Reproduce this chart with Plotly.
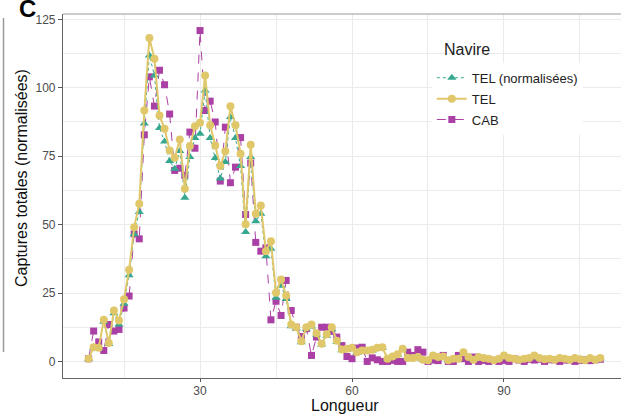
import plotly.graph_objects as go

longueur = [8, 9, 10, 11, 12, 13, 14, 15, 16, 17, 18, 19, 20, 21, 22, 23, 24, 25, 26, 27,
            28, 29, 30, 31, 32, 33, 34, 35, 36, 37, 38, 39, 40, 41, 42, 43, 44, 45, 46, 47,
            48, 49, 50, 51, 52, 53, 54, 55, 56, 57, 58, 59, 60, 61, 62, 63, 64, 65, 66, 67,
            68, 69, 70, 71, 72, 73, 74, 75, 76, 77, 78, 79, 80, 81, 82, 83, 84, 85, 86, 87,
            88, 89, 90, 91, 92, 93, 94, 95, 96, 97, 98, 99, 100, 101, 102, 103, 104, 105,
            106, 107, 108, 109]

tel = [1.0, 5.2, 5.0, 15.2, 6.7, 18.6, 15.0, 22.7, 33.5, 49.0, 57.6, 91.7, 118.2, 110.6,
       89.9, 85.0, 77.1, 74.4, 81.1, 63.1, 78.7, 85.9, 87.2, 104.5, 86.3, 78.9, 71.4, 76.8,
       93.2, 86.3, 75.9, 50.1, 79.2, 54.0, 57.0, 40.3, 43.9, 25.1, 29.9, 24.1, 13.5, 12.5,
       7.4, 12.5, 13.5, 10.3, 6.5, 9.9, 12.5, 7.6,
       4.4, 4.6, 5.0, 3.4, 4.0, 4.0, 4.3, 5.0, 5.2, 1.0, 1.8, 2.6, 4.6, 1.3, 1.3, 1.6, 0.6,
       0.4, 2.2, 1.6, 1.8, 0.4, 1.0, 1.0, 3.4, 1.6, 0.6, 1.6, 1.3, 1.0, 0.4, 1.0, 2.2, 1.3,
       1.0, 0.6, 1.0, 1.3, 2.2, 1.3, 0.8, 1.0, 0.6, 1.3, 1.0, 0.6, 1.3, 0.8, 0.4, 1.3, 0.6, 1.3]

tel_norm = [1.0, 5.0, 4.8, 14.5, 6.4, 17.6, 13.5, 21.1, 31.5, 46.5, 54.6, 86.9, 111.8, 104.5,
            85.3, 80.4, 73.2, 70.4, 76.9, 59.8, 74.7, 81.6, 83.2, 99.0, 81.6, 74.3, 66.8, 72.9,
            89.3, 81.6, 71.4, 47.3, 74.7, 51.2, 54.0, 38.4, 41.2, 23.3, 27.7, 22.8, 12.9, 12.0,
            7.0, 11.9, 12.8, 9.8, 6.2, 9.4, 11.8, 7.2,
            4.1, 4.3, 4.7, 3.2, 3.8, 3.8, 4.0, 4.7, 4.9, 0.9, 1.7, 2.4, 4.3, 1.2, 1.2, 1.5, 0.6,
            0.4, 2.1, 1.5, 1.7, 0.4, 0.9, 0.9, 3.2, 1.5, 0.6, 1.5, 1.2, 0.9, 0.4, 0.9, 2.1, 1.2,
            0.9, 0.6, 0.9, 1.2, 2.1, 1.2, 0.8, 0.9, 0.6, 1.2, 0.9, 0.6, 1.2, 0.8, 0.4, 1.2, 0.6, 1.2]

cab = [1.0, 11.1, 7.1, 4.0, 13.5, 11.1, 11.7, 19.5, 23.9, 46.6, 44.8, 82.8, 104.0, 93.3,
       106.4, 101.1, 90.4, 69.8, 70.6, 68.0, 83.8, 77.9, 120.9, 91.7, 95.1, 87.5, 65.9, 85.6,
       65.3, 71.0, 81.8, 53.7, 72.5, 43.5, 40.3, 41.5, 15.2, 22.0, 16.8, 29.6, 18.6, 12.5,
       9.1, 12.0, 2.2, 8.9, 12.5, 12.5, 11.0, 8.9,
       5.8, 1.8, 1.0, 4.9, 5.2, 0.0, 1.3, 0.6, 0.0, 0.0, 0.4, 0.0, 0.0, 3.4, 2.2, 4.3, 3.4,
       0.0, 0.5, 0.3, 2.2, 0.0, 0.0, 2.2, 1.0, 0.0, 1.6, 0.0, 0.4, 0.0, 0.4, 0.0, 0.4, 0.0,
       1.0, 0.5, 0.0, 0.8, 0.5, 0.8, 0.0, 0.6, 0.6, 0.0, 0.5, 0.6, 0.0, 0.4, 0.6, 0.3, 0.6, 0.8]

x_ticks = [30, 60, 90]
y_ticks = [0, 25, 50, 75, 100, 125]

C_TEAL = "#35A88F"
C_YEL = "#E0C86A"
C_PUR = "#AA3FA5"
FONT = "Liberation Sans, Arial, sans-serif"

fig = go.Figure()
fig.add_trace(go.Scatter(
    x=longueur, y=cab, name="CAB", mode="lines+markers", legendrank=3, legendgroup="c",
    line=dict(color=C_PUR, width=1, dash="dash"),
    marker=dict(symbol="square", size=7, color=C_PUR)))
fig.add_trace(go.Scatter(
    x=longueur, y=tel_norm, name="TEL (normalisées)", mode="lines+markers", legendrank=1,
    legendgroup="a",
    line=dict(color=C_TEAL, width=1, dash="dot"),
    marker=dict(symbol="triangle-up", size=8, color=C_TEAL)))
fig.add_trace(go.Scatter(
    x=longueur, y=tel, name="TEL", mode="lines+markers", legendrank=2, legendgroup="b",
    line=dict(color=C_YEL, width=2),
    marker=dict(symbol="circle", size=8, color=C_YEL)))

grid = "#EBEBEB"
fig.update_layout(
    width=621, height=415,
    margin=dict(l=63, r=0, t=14, b=37),
    paper_bgcolor="white", plot_bgcolor="white",
    font=dict(family=FONT, color="#4D4D4D", size=12),
    showlegend=True,
    legend=dict(
        font=dict(size=13, color="#222222"),
        x=0.661, y=0.866, xanchor="left", yanchor="top",
        bgcolor="white", borderwidth=0, tracegroupgap=1,
    ),
    xaxis=dict(
        range=[2.95, 113.1], tickvals=x_ticks, ticktext=[str(v) for v in x_ticks],
        showgrid=True, gridcolor=grid, gridwidth=1.2,
        minor=dict(showgrid=True, gridcolor=grid, gridwidth=0.6, tickvals=[15, 45, 75, 105]),
        ticks="outside", ticklen=3, tickcolor="#555555",
        ticklabelstandoff=-2,
        showline=True, linecolor="#666666", linewidth=1.2,
        zeroline=False,
        tickfont=dict(size=12, color="#4D4D4D"),
        automargin=False,
    ),
    yaxis=dict(
        range=[-6.05, 126.95], tickvals=y_ticks, ticktext=[str(v) for v in y_ticks],
        showgrid=True, gridcolor=grid, gridwidth=1.2,
        minor=dict(showgrid=True, gridcolor=grid, gridwidth=0.6,
                   tickvals=[12.5, 37.5, 62.5, 87.5, 112.5]),
        ticks="outside", ticklen=4, tickcolor="#555555",
        showline=True, linecolor="#666666", linewidth=1.2,
        zeroline=False,
        tickfont=dict(size=12, color="#4D4D4D"),
        automargin=False,
    ),
)

# top border of panel
fig.add_shape(type="line", xref="paper", yref="paper", x0=0, x1=1, y0=1, y1=1,
              line=dict(color="#999999", width=1.2))
# remnant border at the far left
fig.add_shape(type="line", xref="paper", yref="paper", x0=-0.1066, x1=-0.1066,
              y0=0.989, y1=0.0714, line=dict(color="#9A9A9A", width=1.5))

# panel tag
fig.add_annotation(text="<b>C</b>", xref="paper", yref="paper", x=-0.0824, y=1.0151,
                   xanchor="left", yanchor="middle", showarrow=False,
                   font=dict(size=24, color="#000000", family=FONT))
# axis titles
fig.add_annotation(text="Longueur", xref="paper", yref="paper", x=0.5045,
                   y=1 - (405 - 14) / 364,
                   xanchor="center", yanchor="middle", showarrow=False,
                   font=dict(size=16, color="#111111", family=FONT))
fig.add_annotation(text="Captures totales (normalisées)", xref="paper", yref="paper",
                   x=-0.0735, y=0.5495, xanchor="center", yanchor="middle", textangle=-90,
                   showarrow=False, font=dict(size=16, color="#111111", family=FONT))
# legend title
fig.add_annotation(text="Navire", xref="paper", yref="paper", x=(442 - 63) / 558,
                   y=1 - (49 - 14) / 364, xanchor="left", yanchor="middle", showarrow=False,
                   font=dict(size=16, color="#222222", family=FONT))

fig.write_html("out.html")
